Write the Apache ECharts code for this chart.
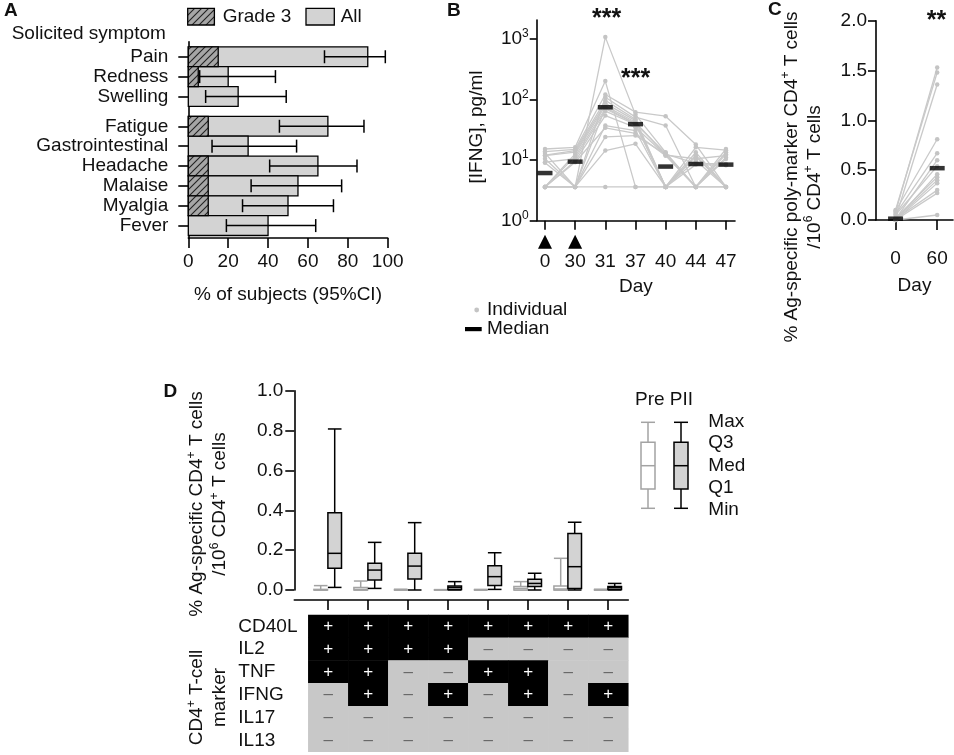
<!DOCTYPE html>
<html>
<head>
<meta charset="utf-8">
<title>Solicited symptoms, IFNG and CD4+ T-cell responses</title>
<script src="https://cdn.jsdelivr.net/npm/echarts@6/dist/echarts.min.js"></script>
<style>
html,body{margin:0;padding:0;background:#fff;}
#chart{width:954px;height:755px;}
</style>
</head>
<body>
<div id="chart"></div>
<script>
var FONT = "'Liberation Sans', Arial, Helvetica, sans-serif";
var INK = '#111';

// ---- panel A : solicited symptoms ----
var symptoms = ['Pain', 'Redness', 'Swelling', 'Fatigue', 'Gastrointestinal', 'Headache', 'Malaise', 'Myalgia', 'Fever'];
var symptomPos = [0, 1, 2, 3.5, 4.5, 5.5, 6.5, 7.5, 8.5];
var allPct = [90, 20, 25, 70, 30, 65, 55, 50, 40];
var grade3Pct = [15, 5, 0, 10, 0, 10, 10, 10, 0];
var ciLow = [68.3, 5.7, 8.7, 45.7, 11.9, 40.8, 31.5, 27.2, 19.1];
var ciHigh = [98.8, 43.7, 49.1, 88.1, 54.3, 84.6, 76.9, 72.8, 63.9];

// ---- panel B : serum IFNG ----
var days = ['0', '30', '31', '37', '40', '44', '47'];
var vaccinationDays = [0, 1];
var ifngSubjects = [
    [3.6, 3.6, 1060, 56, 13.4, 3.6, 3.6],
    [15.2, 16.2, 200, 3.6, 3.6, 3.6, 11],
    [13.8, 15, 120, 61.5, 52.8, 18, 3.6],
    [13, 3.6, 108, 51, 37, 3.6, 15.2],
    [12, 14.3, 96, 47, 3.6, 16.2, 14.5],
    [11.8, 13.5, 86, 44.6, 3.6, 13.4, 3.6],
    [3.6, 12.6, 78, 42, 12.2, 3.6, 13.4],
    [10.5, 3.6, 73, 40, 3.6, 12, 3.6],
    [3.6, 11.5, 70, 39.5, 13, 3.6, 12.5],
    [9.2, 10.5, 64, 38.5, 3.6, 11.4, 3.6],
    [3.6, 9.6, 54, 34.6, 12, 10.5, 11.8],
    [9, 3.6, 37, 30.6, 3.6, 9.8, 3.6],
    [3.6, 9.2, 34, 27.6, 11.8, 3.6, 10.4],
    [3.6, 3.6, 24, 25.3, 12.5, 8.8, 8.6],
    [3.6, 3.6, 14.3, 18.5, 3.6, 8.4, 8.2],
    [3.6, 3.6, 3.6, 3.6, 3.6, 3.6, 3.6]
];
var ifngMedian = [6.1, 9.4, 74, 39, 7.8, 8.6, 8.4];
var logTicks = [1, 10, 100, 1000];

// ---- panel C : poly-marker CD4+ T cells ----
var cDays = ['0', '60'];
var polyDay0 = [0.08, 0.10, 0.02, 0.09, 0.06, 0.01, 0.05, 0.00, 0.02, 0.01, 0.00, 0.01, 0.00, 0.00];
var polyDay60 = [1.53, 1.48, 1.36, 0.81, 0.67, 0.60, 0.54, 0.46, 0.43, 0.40, 0.37, 0.30, 0.27, 0.05];
var polyMedian = [0.013, 0.52];

// ---- panel D : marker combinations, [min, Q1, median, Q3, max] ----
var preBox = [
    [0, 0, 0, 0.003, 0.022],
    [0, 0, 0.003, 0.012, 0.045],
    [0, 0, 0, 0, 0.004],
    [0, 0, 0, 0, 0.002],
    [0, 0, 0, 0, 0.003],
    [0, 0, 0.008, 0.017, 0.042],
    [0, 0, 0.005, 0.02, 0.159],
    [0, 0, 0, 0, 0.004]
];
var piiBox = [
    [0.013, 0.109, 0.184, 0.388, 0.808],
    [0.008, 0.05, 0.10, 0.134, 0.239],
    [0.0, 0.055, 0.12, 0.184, 0.338],
    [0.0, 0.003, 0.013, 0.02, 0.042],
    [0.003, 0.022, 0.067, 0.122, 0.187],
    [0.0, 0.017, 0.033, 0.054, 0.084],
    [0.0, 0.008, 0.117, 0.284, 0.34],
    [0.0, 0.003, 0.012, 0.017, 0.033]
];
var markers = ['CD40L', 'IL2', 'TNF', 'IFNG', 'IL17', 'IL13'];
var markerProfile = [
    [1, 1, 1, 1, 1, 1, 1, 1],
    [1, 1, 1, 1, 0, 0, 0, 0],
    [1, 1, 0, 0, 1, 1, 0, 0],
    [0, 1, 0, 1, 0, 1, 0, 1],
    [0, 0, 0, 0, 0, 0, 0, 0],
    [0, 0, 0, 0, 0, 0, 0, 0]
];
var groupIdx = [0, 1, 2, 3, 4, 5, 6, 7];

// hatch used for the grade 3 bars
var hatch = document.createElement('canvas');
hatch.width = 7; hatch.height = 7;
(function () {
    var c = hatch.getContext('2d');
    c.fillStyle = '#a6a6a6';
    c.fillRect(0, 0, 7, 7);
    c.strokeStyle = '#222';
    c.lineWidth = 1.1;
    c.beginPath();
    c.moveTo(0, 7); c.lineTo(7, 0);
    c.moveTo(-1, 1); c.lineTo(1, -1);
    c.moveTo(6, 8); c.lineTo(8, 6);
    c.stroke();
})();
function hatchFill() { return {type: 'pattern', image: hatch, repeat: 'repeat'}; }

var sup = {
    b: {fontSize: 19, lineHeight: 22, fontFamily: FONT, color: INK},
    s: {fontSize: 12, lineHeight: 12, verticalAlign: 'top', fontFamily: FONT, color: INK}
};
var titleRich = {
    a: {fontSize: 19, lineHeight: 23, fontFamily: FONT, fill: INK},
    s: {fontSize: 12, lineHeight: 12, verticalAlign: 'top', fontFamily: FONT, fill: INK}
};

function line() { return {show: true, onZero: false, lineStyle: {color: '#000', width: 1.6}}; }
function tick(len, vals) {
    var t = {show: true, length: len, lineStyle: {color: '#000', width: 1.6}};
    if (vals) t.customValues = vals;
    return t;
}
function label(margin, extra) {
    var l = {fontSize: 19, color: INK, fontFamily: FONT, margin: margin};
    for (var k in extra) l[k] = extra[k];
    return l;
}

function barRender(fillFn) {
    return function (params, api) {
        var v = api.value(0), p = api.value(1);
        var a = api.coord([0, p]), b = api.coord([v, p]);
        var h = Math.abs(api.size([0, 1])[1]);
        return {type: 'rect', shape: {x: a[0], y: a[1] - h / 2, width: b[0] - a[0], height: h},
            style: {fill: fillFn(), stroke: '#000', lineWidth: 1.3}};
    };
}

function errRender(params, api) {
    var lo = api.coord([api.value(0), api.value(1)]);
    var hi = api.coord([api.value(2), api.value(1)]);
    var ls = {stroke: '#000', lineWidth: 1.5};
    return {type: 'group', children: [
        {type: 'line', shape: {x1: lo[0], y1: lo[1], x2: hi[0], y2: hi[1]}, style: ls},
        {type: 'line', shape: {x1: lo[0], y1: lo[1] - 6.5, x2: lo[0], y2: lo[1] + 6.5}, style: ls},
        {type: 'line', shape: {x1: hi[0], y1: hi[1] - 6.5, x2: hi[0], y2: hi[1] + 6.5}, style: ls}
    ]};
}

function boxRender(offset, stroke, fill) {
    return function (params, api) {
        var i = api.value(0);
        var xc = api.coord([i, 0])[0] + offset;
        function y(d) { return api.coord([i, api.value(d)])[1]; }
        var yMin = y(1), yQ1 = y(2), yMed = y(3), yQ3 = y(4), yMax = y(5);
        var hw = 6.8;
        var ls = {stroke: stroke, lineWidth: 1.5};
        return {type: 'group', children: [
            {type: 'line', shape: {x1: xc, y1: yMax, x2: xc, y2: yQ3}, style: ls},
            {type: 'line', shape: {x1: xc, y1: yQ1, x2: xc, y2: yMin}, style: ls},
            {type: 'line', shape: {x1: xc - hw, y1: yMax, x2: xc + hw, y2: yMax}, style: ls},
            {type: 'line', shape: {x1: xc - hw, y1: yMin, x2: xc + hw, y2: yMin}, style: ls},
            {type: 'rect', shape: {x: xc - hw, y: yQ3, width: 2 * hw, height: yQ1 - yQ3},
                style: {fill: fill, stroke: stroke, lineWidth: 1.5}},
            {type: 'line', shape: {x1: xc - hw, y1: yMed, x2: xc + hw, y2: yMed}, style: ls}
        ]};
    };
}

var series = [];

// A
series.push({type: 'custom', xAxisIndex: 0, yAxisIndex: 0, z: 2,
    data: symptomPos.map(function (p, i) { return [allPct[i], p]; }),
    renderItem: barRender(function () { return '#d3d3d3'; })});
series.push({type: 'custom', xAxisIndex: 0, yAxisIndex: 0, z: 3,
    data: symptomPos.map(function (p, i) { return [grade3Pct[i], p]; }).filter(function (d) { return d[0] > 0; }),
    renderItem: barRender(hatchFill)});
series.push({type: 'custom', xAxisIndex: 0, yAxisIndex: 0, z: 4,
    data: symptomPos.map(function (p, i) { return [ciLow[i], p, ciHigh[i]]; }),
    renderItem: errRender});

// B
ifngSubjects.forEach(function (s) {
    series.push({type: 'line', xAxisIndex: 1, yAxisIndex: 1, z: 2, silent: true,
        data: s.map(function (v, i) { return [i, v]; }),
        symbol: 'circle', symbolSize: 4.5,
        lineStyle: {color: '#c9c9c9', width: 1.3},
        itemStyle: {color: '#c4c4c4'}});
});
series.push({type: 'scatter', xAxisIndex: 1, yAxisIndex: 1, z: 5,
    data: ifngMedian.map(function (v, i) { return [i, v]; }),
    symbol: 'rect', symbolSize: [15, 4.5], itemStyle: {color: '#000'}});
series.push({type: 'custom', xAxisIndex: 1, yAxisIndex: 1, clip: false,
    data: vaccinationDays.map(function (d) { return [d, 1]; }),
    renderItem: function (params, api) {
        var p = api.coord([api.value(0), 1]);
        return {type: 'polygon', shape: {points: [[p[0], p[1] + 14], [p[0] - 7, p[1] + 28], [p[0] + 7, p[1] + 28]]},
            style: {fill: '#000'}};
    }});

// C
polyDay0.forEach(function (v, i) {
    series.push({type: 'line', xAxisIndex: 2, yAxisIndex: 2, z: 2, silent: true,
        data: [[0, v], [1, polyDay60[i]]],
        symbol: 'circle', symbolSize: 4.5,
        lineStyle: {color: '#c9c9c9', width: 1.3},
        itemStyle: {color: '#c4c4c4'}});
});
series.push({type: 'scatter', xAxisIndex: 2, yAxisIndex: 2, z: 5,
    data: polyMedian.map(function (v, i) { return [i, v]; }),
    symbol: 'rect', symbolSize: [15, 4.5], itemStyle: {color: '#000'}});

// D
series.push({type: 'custom', xAxisIndex: 3, yAxisIndex: 3, z: 3,
    data: preBox.map(function (b, i) { return [i].concat(b); }),
    renderItem: boxRender(-7, '#a3a3a3', '#fff')});
series.push({type: 'custom', xAxisIndex: 3, yAxisIndex: 3, z: 4,
    data: piiBox.map(function (b, i) { return [i].concat(b); }),
    renderItem: boxRender(7, '#000', '#d3d3d3')});

var heatData = [];
markerProfile.forEach(function (row, r) {
    row.forEach(function (v, c) {
        heatData.push({value: [c, r, v], label: {color: v ? '#fff' : '#666'}});
    });
});
var heatIndex = series.length;
series.push({type: 'heatmap', xAxisIndex: 4, yAxisIndex: 4,
    data: heatData,
    label: {show: true, fontSize: 17, fontFamily: FONT,
        formatter: function (p) { return p.value[2] ? '+' : '\u2013'; }},
    itemStyle: {borderWidth: 0},
    emphasis: {disabled: true}});

function txt(x, y, text, extra) {
    var st = {text: text, fontSize: 19, fontFamily: FONT, fill: INK, align: 'left', verticalAlign: 'middle'};
    for (var k in extra) st[k] = extra[k];
    return {type: 'text', x: x, y: y, style: st};
}
function legendBox(xc, stroke, fill) {
    var hw = 7, ls = {stroke: stroke, lineWidth: 1.5};
    return [
        {type: 'line', shape: {x1: xc, y1: 422.3, x2: xc, y2: 442.3}, style: ls},
        {type: 'line', shape: {x1: xc, y1: 489, x2: xc, y2: 508.3}, style: ls},
        {type: 'line', shape: {x1: xc - hw, y1: 422.3, x2: xc + hw, y2: 422.3}, style: ls},
        {type: 'line', shape: {x1: xc - hw, y1: 508.3, x2: xc + hw, y2: 508.3}, style: ls},
        {type: 'rect', shape: {x: xc - hw, y: 442.3, width: 2 * hw, height: 46.7}, style: {fill: fill, stroke: stroke, lineWidth: 1.5}},
        {type: 'line', shape: {x1: xc - hw, y1: 465.7, x2: xc + hw, y2: 465.7}, style: ls}
    ];
}

var graphics = [
    txt(4, 11, 'A', {fontWeight: 'bold'}),
    txt(447, 11, 'B', {fontWeight: 'bold'}),
    txt(768, 10, 'C', {fontWeight: 'bold'}),
    txt(163.5, 392, 'D', {fontWeight: 'bold'}),
    {type: 'rect', shape: {x: 187.7, y: 8.3, width: 26.7, height: 16.7}, style: {fill: hatchFill(), stroke: '#000', lineWidth: 1.3}},
    txt(222.7, 16.7, 'Grade 3'),
    {type: 'rect', shape: {x: 306, y: 8.3, width: 28.3, height: 16.7}, style: {fill: '#d3d3d3', stroke: '#000', lineWidth: 1.3}},
    txt(340.7, 16.7, 'All'),
    txt(11.7, 33.3, 'Solicited symptom'),
    {type: 'circle', shape: {cx: 476.7, cy: 310, r: 2.4}, style: {fill: '#c4c4c4'}},
    txt(487, 310, 'Individual'),
    {type: 'rect', shape: {x: 465, y: 327, width: 16.7, height: 4.2}, style: {fill: '#000'}},
    txt(487, 329, 'Median'),
    txt(606.7, 19, '***', {align: 'center', fontSize: 25, fontWeight: 'bold'}),
    txt(635.7, 79, '***', {align: 'center', fontSize: 25, fontWeight: 'bold'}),
    txt(936.5, 21, '**', {align: 'center', fontSize: 25, fontWeight: 'bold'}),
    {type: 'text', x: 477, y: 127, rotation: Math.PI / 2,
        style: {text: '[IFNG], pg/ml', fontSize: 19, fontFamily: FONT, fill: INK, align: 'center', verticalAlign: 'middle'}},
    {type: 'text', x: 803, y: 177, rotation: Math.PI / 2,
        style: {text: '{a|% Ag-specific poly-marker CD4}{s|+}{a| T cells}\n{a|/10}{s|6}{a| CD4}{s|+}{a| T cells}',
            rich: titleRich, align: 'center', verticalAlign: 'middle'}},
    {type: 'text', x: 208.4, y: 504, rotation: Math.PI / 2,
        style: {text: '{a|% Ag-specific CD4}{s|+}{a| T cells}\n{a|/10}{s|6}{a| CD4}{s|+}{a| T cells}',
            rich: titleRich, align: 'center', verticalAlign: 'middle'}},
    {type: 'text', x: 208.4, y: 697.5, rotation: Math.PI / 2,
        style: {text: '{a|CD4}{s|+}{a| T-cell}\n{a|marker}',
            rich: titleRich, align: 'center', verticalAlign: 'middle'}},
    txt(635, 400, 'Pre PII'),
    txt(708.3, 421.7, 'Max'),
    txt(708.3, 443, 'Q3'),
    txt(708.3, 466, 'Med'),
    txt(708.3, 488, 'Q1'),
    txt(708.3, 510, 'Min')
].concat(legendBox(648, '#a3a3a3', '#fff')).concat(legendBox(681, '#000', '#d3d3d3'));

var option = {
    animation: false,
    backgroundColor: '#fff',
    textStyle: {fontFamily: FONT},
    grid: [
        {left: 188.3, top: 41.85, width: 199.4, height: 196.15},
        {left: 536.7, top: 20, width: 198.3, height: 200.7},
        {left: 876, top: 20.7, width: 77, height: 199.3},
        {left: 294.3, top: 390.7, width: 334, height: 199.3},
        {left: 308.3, top: 615, width: 320, height: 136.7}
    ],
    xAxis: [
        {type: 'value', gridIndex: 0, min: 0, max: 100, interval: 20,
            axisLine: line(), axisTick: tick(10), splitLine: {show: false},
            axisLabel: label(14),
            name: '% of subjects (95%CI)', nameLocation: 'middle', nameGap: 47,
            nameTextStyle: {fontSize: 19, color: INK, fontFamily: FONT}},
        {type: 'value', gridIndex: 1, min: -0.275, max: 6.3,
            axisLine: line(), axisTick: tick(9, [0, 1, 2, 3, 4, 5, 6]), splitLine: {show: false},
            axisLabel: label(32, {customValues: [0, 1, 2, 3, 4, 5, 6], formatter: function (v) { return days[v]; }}),
            name: 'Day', nameLocation: 'middle', nameGap: 57,
            nameTextStyle: {fontSize: 19, color: INK, fontFamily: FONT}},
        {type: 'value', gridIndex: 2, min: -0.47, max: 1.38,
            axisLine: line(), axisTick: tick(10, [0, 1]), splitLine: {show: false},
            axisLabel: label(29, {customValues: [0, 1], formatter: function (v) { return cDays[v]; }}),
            name: 'Day', nameLocation: 'middle', nameGap: 56,
            nameTextStyle: {fontSize: 19, color: INK, fontFamily: FONT}},
        {type: 'value', gridIndex: 3, min: -0.835, max: 7.515, offset: 10,
            axisLine: line(), axisTick: tick(10, groupIdx), splitLine: {show: false},
            axisLabel: {show: false}},
        {type: 'category', gridIndex: 4, data: groupIdx, show: false}
    ],
    yAxis: [
        {type: 'value', gridIndex: 0, min: -0.75, max: 9.125, inverse: true,
            axisLine: line(), axisTick: tick(10, symptomPos), splitLine: {show: false},
            axisLabel: label(20, {customValues: symptomPos, formatter: function (v) {
                var i = symptomPos.indexOf(v); return i < 0 ? '' : symptoms[i]; }})},
        {type: 'log', logBase: 10, gridIndex: 1, min: 1, max: 2030,
            axisLine: line(), axisTick: tick(7, logTicks), splitLine: {show: false}, minorTick: {show: false},
            axisLabel: {customValues: logTicks, margin: 8, rich: sup,
                formatter: function (v) { return '{b|10}{s|' + Math.round(Math.log(v) / Math.LN10) + '}'; }}},
        {type: 'value', gridIndex: 2, min: 0, max: 2, interval: 0.5,
            axisLine: line(), axisTick: tick(8), splitLine: {show: false},
            axisLabel: label(9, {formatter: function (v) { return v.toFixed(1); }})},
        {type: 'value', gridIndex: 3, min: 0, max: 1, interval: 0.2,
            axisLine: line(), axisTick: tick(9), splitLine: {show: false},
            axisLabel: label(11, {formatter: function (v) { return v.toFixed(1); }})},
        {type: 'category', gridIndex: 4, data: markers, inverse: true,
            axisLine: {show: false}, axisTick: {show: false}, splitLine: {show: false},
            axisLabel: label(70, {align: 'left', interval: 0})}
    ],
    visualMap: {type: 'piecewise', show: false, seriesIndex: heatIndex, dimension: 2,
        pieces: [{value: 1, color: '#000'}, {value: 0, color: '#c8c8c8'}]},
    graphic: graphics,
    series: series
};

var chart = echarts.init(document.getElementById('chart'));
chart.setOption(option);
</script>
</body>
</html>
